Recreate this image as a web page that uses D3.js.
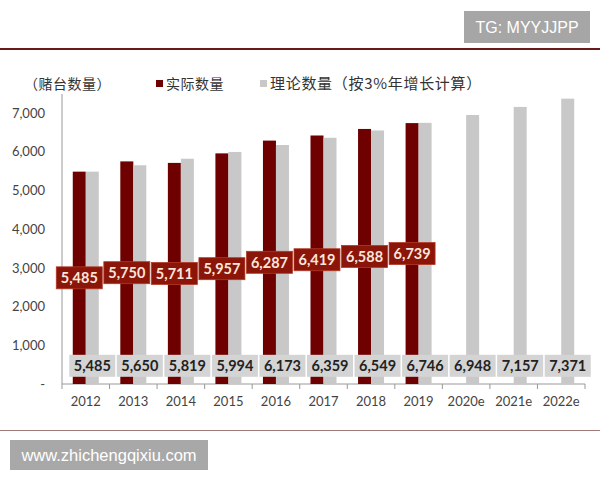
<!DOCTYPE html>
<html>
<head>
<meta charset="utf-8">
<script src="https://cdn.jsdelivr.net/npm/d3@7"></script>
<style>
  body { margin: 0; background: #fff; }
  svg { display: block; }
</style>
</head>
<body>
<svg width="600" height="480"></svg>
<script>
var years = ['2012', '2013', '2014', '2015', '2016', '2017', '2018', '2019', '2020e', '2021e', '2022e'];
var actual = [5485, 5750, 5711, 5957, 6287, 6419, 6588, 6739, null, null, null];
var theory = [5485, 5650, 5819, 5994, 6173, 6359, 6549, 6746, 6948, 7157, 7371];
var yTicks = [0, 1000, 2000, 3000, 4000, 5000, 6000, 7000];
var keys = ['actual', 'theory'];

var svg = d3.select('svg');
var width = +svg.attr('width');
var height = +svg.attr('height');
var numFont = 'Lato, "Open Sans", sans-serif';
var cjkFont = '"Noto Sans CJK SC", sans-serif';

var red = '#6e0000';
var grey = '#c8c8c8';

// header / footer frame
svg.append('rect')
    .attr('x', 464).attr('y', 11).attr('width', 126).attr('height', 32)
    .attr('fill', '#a6a6a6');
svg.append('text')
    .attr('x', 527).attr('y', 33)
    .attr('text-anchor', 'middle')
    .attr('font-family', '"Liberation Sans", Arial, sans-serif')
    .attr('font-size', 16)
    .attr('fill', '#fff')
    .text('TG: MYYJJPP');

svg.append('line')
    .attr('x1', 0).attr('x2', width).attr('y1', 49).attr('y2', 49)
    .attr('stroke', '#6a1a1a').attr('stroke-width', 2);
svg.append('line')
    .attr('x1', 0).attr('x2', width).attr('y1', 430.5).attr('y2', 430.5)
    .attr('stroke', '#a07878').attr('stroke-width', 1.2);

svg.append('rect')
    .attr('x', 10).attr('y', 440).attr('width', 198).attr('height', 30)
    .attr('fill', '#a8a8a8');
svg.append('text')
    .attr('x', 109).attr('y', 461)
    .attr('text-anchor', 'middle')
    .attr('font-family', '"Liberation Sans", Arial, sans-serif')
    .attr('font-size', 16.5)
    .attr('fill', '#fff')
    .text('www.zhichengqixiu.com');

// legend
var legend = svg.append('g')
    .attr('font-family', cjkFont)
    .attr('font-size', 14)
    .attr('fill', '#333');
legend.append('text').attr('x', 24).attr('y', 89).attr('letter-spacing', 0.5).text('（赌台数量）');
legend.append('rect').attr('x', 156).attr('y', 80).attr('width', 7).attr('height', 7).attr('fill', red);
legend.append('text').attr('x', 166).attr('y', 89).attr('letter-spacing', 0.5).text('实际数量');
legend.append('rect').attr('x', 260).attr('y', 80).attr('width', 7).attr('height', 7).attr('fill', grey);
legend.append('text').attr('x', 270).attr('y', 89).attr('font-size', 15).attr('letter-spacing', 0.7).text('理论数量（按3%年增长计算）');

// scales
var x = d3.scaleBand()
    .domain(years)
    .range([62, 585])
    .padding(0);

var bw = x.bandwidth();
var x1 = d3.scaleBand()
    .domain(keys)
    .range([bw / 2 - 13, bw / 2 + 13]);

var y = d3.scaleLinear()
    .domain([0, 7000])
    .range([384, 113]);

// axes
var yAxis = svg.append('g')
    .attr('transform', 'translate(62,0)')
    .call(d3.axisLeft(y)
        .tickValues(yTicks)
        .tickSize(0)
        .tickPadding(17)
        .tickFormat(d => d === 0 ? '-' : d3.format(',')(d)));
yAxis.select('.domain')
    .attr('d', 'M0,' + 94 + 'V' + y(0))
    .attr('stroke', '#999');
yAxis.selectAll('text')
    .attr('font-family', numFont)
    .attr('font-size', 13)
    .attr('fill', '#444');

var xAxis = svg.append('g')
    .attr('transform', 'translate(0,' + y(0) + ')');
xAxis.append('line')
    .attr('x1', x.range()[0]).attr('x2', x.range()[1])
    .attr('stroke', '#999');
xAxis.selectAll('.tk')
    .data(years.concat(['end']))
    .enter().append('line')
    .attr('x1', (d, i) => x.range()[0] + i * x.step())
    .attr('x2', (d, i) => x.range()[0] + i * x.step())
    .attr('y1', 0).attr('y2', 5)
    .attr('stroke', '#999');
xAxis.selectAll('.lbl')
    .data(years)
    .enter().append('text')
    .attr('x', d => x(d) + bw / 2)
    .attr('y', 22)
    .attr('text-anchor', 'middle')
    .attr('font-family', numFont)
    .attr('font-size', 13)
    .attr('fill', '#444')
    .text(d => d);

// bars
var rows = years.map((yr, i) => ({ year: yr, actual: actual[i], theory: theory[i] }));

var groups = svg.selectAll('.grp')
    .data(rows)
    .enter().append('g')
    .attr('transform', d => 'translate(' + x(d.year) + ',0)');

groups.selectAll('rect')
    .data(d => keys.filter(k => d[k] != null).map(k => ({ key: k, value: d[k] })))
    .enter().append('rect')
    .attr('x', d => x1(d.key))
    .attr('width', x1.bandwidth())
    .attr('y', d => y(d.value))
    .attr('height', d => y(0) - y(d.value))
    .attr('fill', d => d.key === 'actual' ? red : grey);

// grey labels (bottom)
var boxW = 46, boxH = 22;
var greyLbl = groups.append('g')
    .attr('transform', d => 'translate(' + (x1('theory') + x1.bandwidth() / 2) + ',' + y(470) + ')');
greyLbl.append('rect')
    .attr('x', -boxW / 2).attr('y', -boxH / 2)
    .attr('width', boxW).attr('height', boxH)
    .attr('fill', '#d4d4d4');
greyLbl.append('text')
    .attr('text-anchor', 'middle')
    .attr('dy', '0.36em')
    .attr('font-family', numFont)
    .attr('font-weight', 'bold')
    .attr('font-size', 14.5)
    .attr('fill', '#222')
    .text(d => d3.format(',')(d.theory));

// red labels (centre of bar)
var redLbl = groups.filter(d => d.actual != null).append('g')
    .attr('transform', d => 'translate(' + (x1('actual') + x1.bandwidth() / 2) + ',' + y(d.actual / 2) + ')');
redLbl.append('rect')
    .attr('x', -boxW / 2).attr('y', -boxH / 2)
    .attr('width', boxW).attr('height', boxH)
    .attr('fill', '#8a1508')
    .attr('stroke', '#b23a28')
    .attr('stroke-width', 0.8);
redLbl.append('text')
    .attr('text-anchor', 'middle')
    .attr('dy', '0.36em')
    .attr('font-family', numFont)
    .attr('font-weight', 'bold')
    .attr('font-size', 14.5)
    .attr('fill', '#fbe6dc')
    .text(d => d3.format(',')(d.actual));
</script>
</body>
</html>
